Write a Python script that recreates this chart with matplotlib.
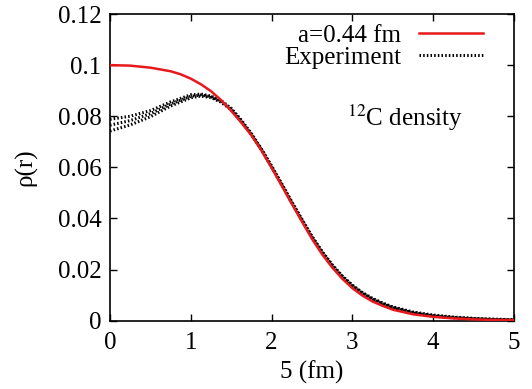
import numpy as np
import matplotlib.pyplot as plt
from matplotlib.lines import Line2D

plt.rcParams['font.family'] = ['Liberation Serif', 'DejaVu Serif']
plt.rcParams['mathtext.fontset'] = 'stix'

# Calculated density, a=0.44 fm
r_calc = [0, 0.25, 0.5, 0.75, 0.875, 1.0, 1.125, 1.25, 1.375, 1.5, 1.625, 1.75, 1.875,
          2.0, 2.125, 2.25, 2.375, 2.5, 2.625, 2.75, 2.875, 3.0, 3.125, 3.25, 3.375,
          3.5, 3.75, 4.0, 4.25, 4.5, 4.75, 5.0]
rho_calc = [0.1000, 0.0998, 0.0990, 0.0976, 0.0964, 0.0947, 0.0925, 0.0898, 0.0863, 0.0821,
            0.0775, 0.0725, 0.0665, 0.0598, 0.0528, 0.0457, 0.0388, 0.0320, 0.0260, 0.0208,
            0.0164, 0.0127, 0.0098, 0.0075, 0.0058, 0.0043, 0.0025, 0.0015, 0.0009, 0.0005,
            0.0003, 0.0002]

# Experimental band (three curves)
r_exp = [0, 0.25, 0.5, 0.75, 1.0, 1.125, 1.25, 1.375, 1.5, 1.625, 1.75, 1.875, 2.0, 2.125,
         2.25, 2.375, 2.5, 2.625, 2.75, 2.875, 3.0, 3.125, 3.25, 3.375, 3.5, 3.75, 4.0,
         4.25, 4.5, 4.75, 5.0]
rho_exp_mid = [0.0765, 0.0783, 0.0810, 0.0848, 0.0878, 0.0883, 0.0876, 0.0858, 0.0828, 0.0782,
               0.0730, 0.0670, 0.0603, 0.0534, 0.0463, 0.0395, 0.0328, 0.0269, 0.0217, 0.0173,
               0.0137, 0.0108, 0.0085, 0.0067, 0.0052, 0.0032, 0.0020, 0.0013, 0.0008, 0.0005,
               0.0003]
rho_exp_hi = [0.0788, 0.0800, 0.0822, 0.0856, 0.0884, 0.0887, 0.0879, 0.0861, 0.0831, 0.0785,
              0.0732, 0.0672, 0.0605, 0.0536, 0.0465, 0.0397, 0.0330, 0.0271, 0.0219, 0.0175,
              0.0139, 0.0110, 0.0087, 0.0069, 0.0054, 0.0034, 0.0022, 0.0014, 0.0009, 0.0006,
              0.0004]
rho_exp_lo = [0.0742, 0.0766, 0.0798, 0.0840, 0.0872, 0.0879, 0.0873, 0.0855, 0.0825, 0.0779,
              0.0728, 0.0668, 0.0601, 0.0532, 0.0461, 0.0393, 0.0326, 0.0267, 0.0215, 0.0171,
              0.0135, 0.0106, 0.0083, 0.0065, 0.0050, 0.0030, 0.0018, 0.0011, 0.0007, 0.0004,
              0.0002]

xticks = [0, 1, 2, 3, 4, 5]
yticks = [0, 0.02, 0.04, 0.06, 0.08, 0.1, 0.12]
ytick_labels = ['0', '0.02', '0.04', '0.06', '0.08', '0.1', '0.12']

fig = plt.figure(figsize=(5.32, 3.89), dpi=100)
ax = fig.add_axes([0.2068, 0.1756, 0.7594, 0.7884])

red = '#e8191c'
dots = (0, (0.5, 0.7))
for rho in (rho_exp_hi, rho_exp_mid, rho_exp_lo):
    ax.plot(r_exp, rho, color='black', lw=2.2, linestyle=dots, zorder=2)
ax.plot(r_calc, rho_calc, color=red, lw=1.8, zorder=3)

ax.set_xlim(0, 5)
ax.set_ylim(0, 0.12)
ax.set_xticks(xticks)
ax.set_yticks(yticks)
ax.set_yticklabels(ytick_labels)
ax.tick_params(direction='in', length=5, width=1, labelsize=18, top=True, right=True, pad=6)
ax.tick_params(axis='x', pad=8)
for s in ax.spines.values():
    s.set_linewidth(1.2)

ax.set_xlabel('5 (fm)', fontsize=18, labelpad=5)
ax.set_ylabel('ρ(r)', fontsize=18, labelpad=15)

handles = [Line2D([], [], color=red, lw=1.8),
           Line2D([], [], color='black', lw=2.2, linestyle=dots)]
ax.legend(handles, ['a=0.44 fm', 'Experiment'], loc='upper right', frameon=False,
          markerfirst=False, fontsize=18, handlelength=2.56, handletextpad=0.7,
          labelspacing=0.0, borderaxespad=0.0, borderpad=0.0,
          bbox_to_anchor=(0.923, 0.967))

ax.text(0.874, 0.661, r'$^{12}$C density', transform=ax.transAxes, fontsize=18,
        ha='right', va='center')

fig.savefig('out.png', dpi=100)
